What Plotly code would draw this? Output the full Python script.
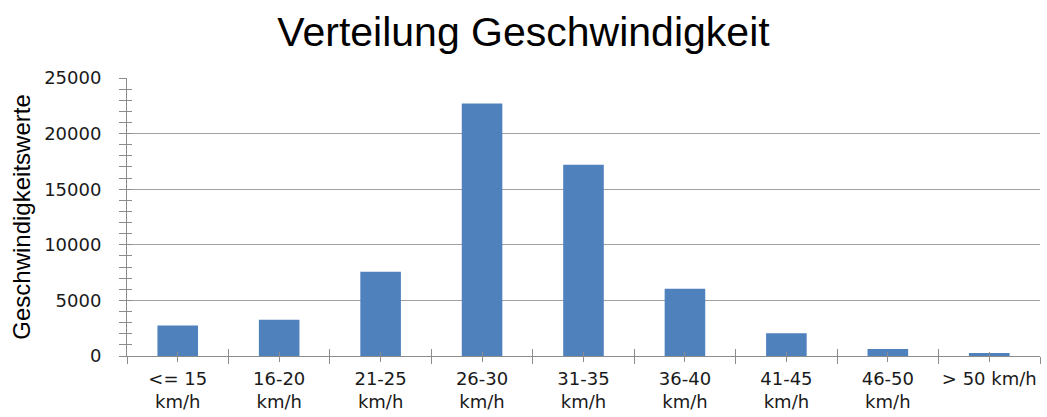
import plotly.graph_objects as go

categories = ["<= 15<br>km/h", "16-20<br>km/h", "21-25<br>km/h", "26-30<br>km/h",
              "31-35<br>km/h", "36-40<br>km/h", "41-45<br>km/h", "46-50<br>km/h", "> 50 km/h"]
values = [2740, 3250, 7580, 22700, 17200, 6050, 2050, 630, 280]
y_ticks = [0, 5000, 10000, 15000, 20000, 25000]
y_ticklabels = ["0", "5000", "10000", "15000", "20000", "25000"]

title_text = "Verteilung Geschwindigkeit"
y_title = "Geschwindigkeitswerte"

BAR = "#4F81BD"
GRID = "#A0A0A0"
AXIS = "#8C8C8C"
TICKFONT = dict(family="DejaVu Sans", size=18, color="#1a1a1a")

fig = go.Figure()
fig.add_trace(go.Bar(x=categories, y=values, marker=dict(color=BAR, line=dict(width=0)),
                     xaxis="x", yaxis="y", showlegend=False))
# invisible helper traces so overlay axes draw their ticks
for xa, ya in [("x2", "y"), ("x3", "y"), ("x4", "y"), ("x", "y2")]:
    fig.add_trace(go.Scatter(x=categories, y=values, mode="markers",
                             marker=dict(opacity=0), hoverinfo="skip",
                             xaxis=xa, yaxis=ya, showlegend=False))

xr = [-0.5, len(categories) - 0.5]
yr = [0, 25000]

fig.update_layout(
    width=1047, height=417,
    margin=dict(l=127, r=7, t=78, b=61),
    paper_bgcolor="white", plot_bgcolor="white",
    bargap=0.6,
    title=dict(text=title_text, x=0.5, xanchor="center", y=1 - 32 / 417, yanchor="middle",
               font=dict(family="Liberation Sans", size=41, color="#000000")),
    xaxis=dict(type="category", range=xr, tickson="boundaries", ticks="outside", ticklen=7,
               tickcolor=AXIS, showline=True, linecolor=AXIS, linewidth=1, showgrid=False,
               tickfont=TICKFONT, ticklabelstandoff=6, zeroline=False, tickangle=0,
               automargin=False),
    xaxis2=dict(type="category", range=xr, overlaying="x", anchor="y", tickson="boundaries",
                ticks="inside", ticklen=7, tickcolor=AXIS, showticklabels=False,
                showline=False, showgrid=False, zeroline=False, automargin=False),
    xaxis3=dict(type="category", range=xr, overlaying="x", anchor="y", tickson="labels",
                ticks="outside", ticklen=5, tickcolor=AXIS, showticklabels=False,
                showline=False, showgrid=False, zeroline=False, automargin=False),
    xaxis4=dict(type="category", range=xr, overlaying="x", anchor="y", tickson="labels",
                ticks="inside", ticklen=4, tickcolor=AXIS, showticklabels=False,
                showline=False, showgrid=False, zeroline=False, automargin=False),
    yaxis=dict(range=yr, tickvals=y_ticks, ticktext=y_ticklabels, ticks="outside", ticklen=7,
               tickcolor=AXIS, showline=True, linecolor=AXIS, linewidth=1, showgrid=True,
               gridcolor=GRID, gridwidth=1, zeroline=False, tickfont=TICKFONT,
               ticklabelstandoff=14, automargin=False,
               minor=dict(dtick=1000, ticks="outside", ticklen=7, tickcolor=AXIS, showgrid=False),
               title=dict(text=y_title, font=dict(family="Liberation Sans", size=24, color="#000000"),
                          standoff=6)),
    yaxis2=dict(range=yr, overlaying="y", anchor="x", tickvals=y_ticks, ticks="inside", ticklen=5,
                tickcolor=AXIS, showticklabels=False, showline=False, showgrid=False,
                zeroline=False, side="left", automargin=False,
                minor=dict(dtick=1000, ticks="inside", ticklen=5, tickcolor=AXIS, showgrid=False)),
)

fig.write_html("out.html")
